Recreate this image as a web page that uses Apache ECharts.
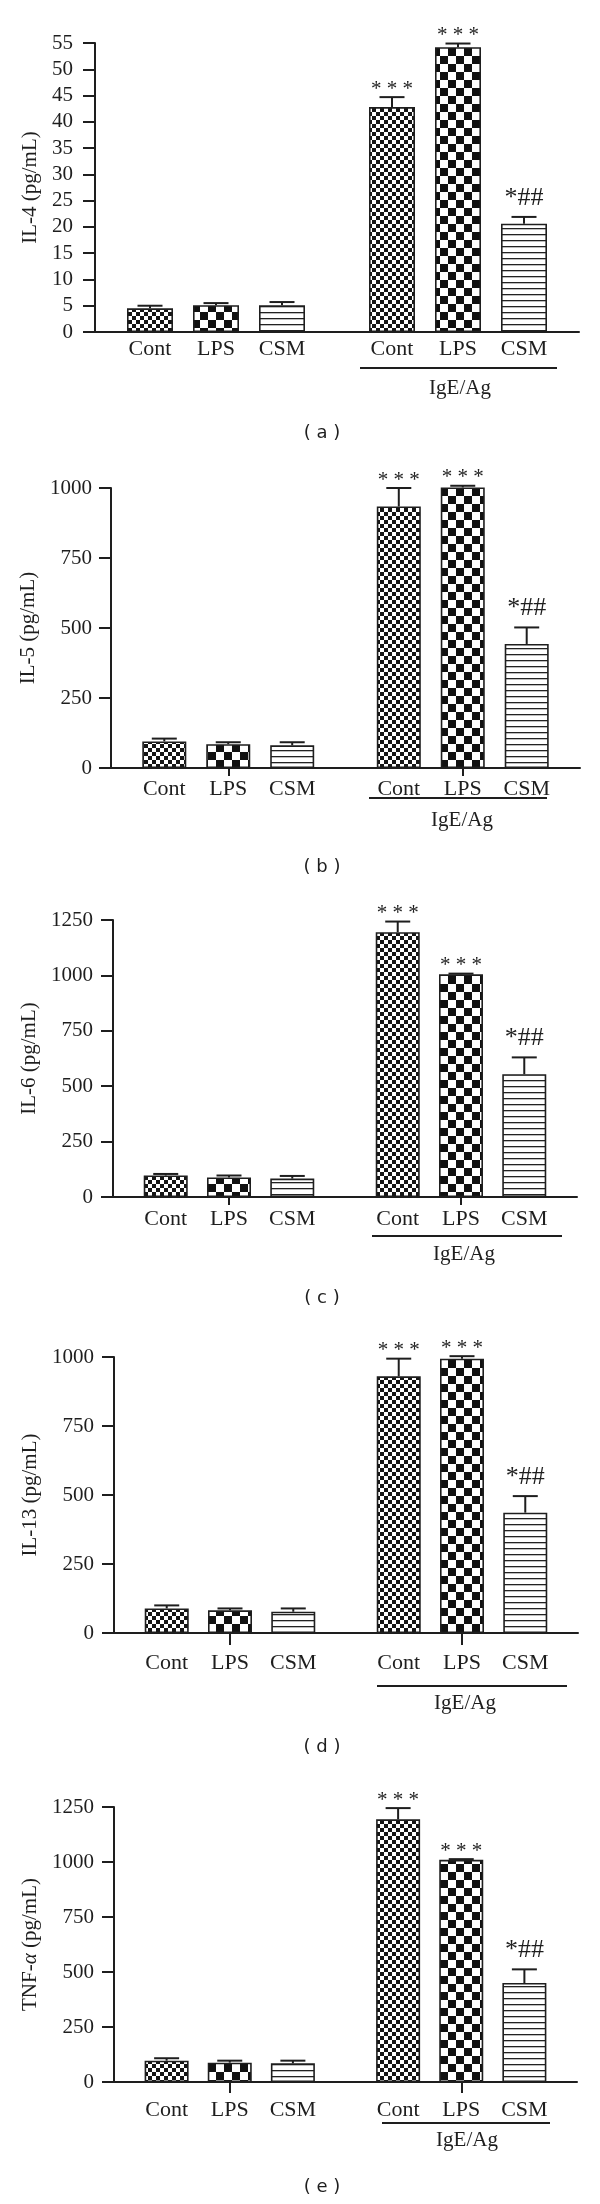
<!DOCTYPE html>
<html>
<head>
<meta charset="utf-8">
<title>Cytokine release</title>
<script src="https://cdn.jsdelivr.net/npm/echarts@6/dist/echarts.min.js"></script>
<style>
  html, body { margin: 0; padding: 0; background: #fff; }
  #chart { width: 600px; height: 2204px; }
</style>
</head>
<body>
<div id="chart"></div>
<script>
// groups: first three untreated, last three IgE/Ag
const groupLabels = ['Cont', 'LPS', 'CSM'];
const sigMarks = ['', '', '', '***', '***', '*##'];

const il4Mean = [4.5, 5.1, 5.1, 42.8, 54.2, 20.6];
const il4Err = [0.5, 0.4, 0.6, 1.9, 0.7, 1.3];

const il5Mean = [95, 85, 81, 934, 1002, 443];
const il5Err = [10, 7, 11, 66, 6, 59];

const il6Mean = [97, 88, 83, 1195, 1005, 554];
const il6Err = [7, 9, 12, 48, 3, 76];

const il13Mean = [89, 82, 77, 930, 994, 436];
const il13Err = [11, 7, 12, 64, 9, 60];

const tnfMean = [97, 88, 85, 1194, 1010, 450];
const tnfErr = [11, 9, 12, 51, 3, 62];

const SERIF = '"Liberation Serif", "DejaVu Serif", serif';
const INK = '#1e1e1e';

function makePattern(kind) {
  const c = document.createElement('canvas');
  const ctx = c.getContext('2d');
  if (kind === 'fine') {
    c.width = c.height = 8;
    ctx.fillStyle = '#fff'; ctx.fillRect(0, 0, 8, 8);
    ctx.fillStyle = '#151515';
    ctx.fillRect(0, 0, 4, 4); ctx.fillRect(4, 4, 4, 4);
  } else if (kind === 'coarse') {
    c.width = c.height = 16;
    ctx.fillStyle = '#fff'; ctx.fillRect(0, 0, 16, 16);
    ctx.fillStyle = '#111';
    ctx.fillRect(0, 0, 8, 8); ctx.fillRect(8, 8, 8, 8);
  } else {
    c.width = 6; c.height = 6;
    ctx.fillStyle = '#fff'; ctx.fillRect(0, 0, 6, 6);
    ctx.fillStyle = '#222';
    ctx.fillRect(0, 0, 6, 1.3);
  }
  return { image: c, repeat: 'repeat' };
}
const patterns = [makePattern('fine'), makePattern('coarse'), makePattern('stripes')];

// 22 category slots per panel, bars sit in slots 2,5,8 and 13,16,19
const nSlots = 22;
const slotIdx = [2, 5, 8, 13, 16, 19];

const panels = [
  { name: 'IL-4 (pg/mL)', mean: il4Mean, err: il4Err, max: 55, step: 5,
    left: 95, right: 21, top: 43, height: 289, barW: 46, labelMargin: 22, nameGap: 52,
    xTick: 0, xLabelMargin: 6, line: [360, 557, 368], group: [460, 388], letter: ['( a )', 322, 433] },
  { name: 'IL-5 (pg/mL)', mean: il5Mean, err: il5Err, max: 1000, step: 250,
    left: 111, right: 20, top: 488, height: 280, barW: 44, labelMargin: 19, nameGap: 66,
    xTick: 8, xLabelMargin: 10, line: [369, 547, 798], group: [462, 820], letter: ['( b )', 322, 867] },
  { name: 'IL-6 (pg/mL)', mean: il6Mean, err: il6Err, max: 1250, step: 250,
    left: 113, right: 23, top: 920, height: 277, barW: 44, labelMargin: 20, nameGap: 68,
    xTick: 8, xLabelMargin: 11, line: [372, 562, 1236], group: [464, 1254], letter: ['( c )', 322, 1298] },
  { name: 'IL-13 (pg/mL)', mean: il13Mean, err: il13Err, max: 1000, step: 250,
    left: 114, right: 22, top: 1357, height: 276, barW: 44, labelMargin: 20, nameGap: 69,
    xTick: 12, xLabelMargin: 19, line: [377, 567, 1686], group: [465, 1703], letter: ['( d )', 322, 1747] },
  { name: '{n|TNF-}{i|α}{n| (pg/mL)}', mean: tnfMean, err: tnfErr, max: 1250, step: 250,
    left: 114, right: 23, top: 1807, height: 275, barW: 44, labelMargin: 20, nameGap: 69,
    xTick: 11, xLabelMargin: 17, line: [382, 550, 2123], group: [467, 2140], letter: ['( e )', 322, 2187] }
];

const grid = [], xAxis = [], yAxis = [], series = [], graphic = [];

panels.forEach(function (p, i) {
  grid.push({ left: p.left, right: p.right, top: p.top, height: p.height, outerBoundsMode: 'none' });

  const cats = new Array(nSlots).fill('');
  slotIdx.forEach(function (s, k) { cats[s] = groupLabels[k % 3]; });

  xAxis.push({
    type: 'category', gridIndex: i, data: cats,
    axisLine: { lineStyle: { color: INK, width: 2 } },
    axisTick: {
      show: p.xTick > 0, alignWithLabel: true, length: p.xTick,
      lineStyle: { color: INK, width: 2 },
      interval: function (idx) { return idx === slotIdx[1] || idx === slotIdx[4]; }
    },
    axisLabel: { interval: 0, margin: p.xLabelMargin, color: INK, fontFamily: SERIF, fontSize: 22 }
  });

  yAxis.push({
    type: 'value', gridIndex: i, min: 0, max: p.max, interval: p.step,
    name: p.name, nameLocation: 'middle', nameGap: p.nameGap,
    nameTextStyle: {
      color: INK, fontFamily: SERIF, fontSize: 21,
      rich: {
        n: { fontFamily: SERIF, fontSize: 21, color: INK },
        i: { fontFamily: SERIF, fontSize: 21, color: INK, fontStyle: 'italic' }
      }
    },
    splitLine: { show: false },
    axisLine: { show: true, lineStyle: { color: INK, width: 2 } },
    axisTick: { show: true, inside: false, length: 12, lineStyle: { color: INK, width: 2 } },
    axisLabel: {
      margin: p.labelMargin, color: INK, fontFamily: SERIF, fontSize: 21,
      formatter: function (v) { return String(v); }
    }
  });

  const barData = new Array(nSlots).fill('-');
  p.mean.forEach(function (m, k) {
    barData[slotIdx[k]] = { value: m, itemStyle: { color: patterns[k % 3] } };
  });
  series.push({
    type: 'bar', xAxisIndex: i, yAxisIndex: i, data: barData,
    barWidth: p.barW, silent: true,
    itemStyle: { borderColor: INK, borderWidth: 1.6 }
  });

  series.push({
    type: 'custom', xAxisIndex: i, yAxisIndex: i, silent: true, z: 5,
    encode: { x: 0, y: [1, 2] },
    data: p.mean.map(function (m, k) { return [slotIdx[k], m, m + p.err[k]]; }),
    renderItem: function (params, api) {
      const base = api.coord([api.value(0), api.value(1)]);
      const top = api.coord([api.value(0), api.value(2)]);
      const mark = sigMarks[params.dataIndex];
      const kids = [
        { type: 'line', shape: { x1: base[0], y1: base[1], x2: top[0], y2: top[1] },
          style: { stroke: INK, lineWidth: 2 } },
        { type: 'line', shape: { x1: top[0] - 12.5, y1: top[1], x2: top[0] + 12.5, y2: top[1] },
          style: { stroke: INK, lineWidth: 2 } }
      ];
      if (mark) {
        const stars = mark === '***';
        kids.push({
          type: 'text', x: top[0], y: top[1] - (stars ? 8 : 19),
          style: {
            text: stars ? '* * *' : mark, align: 'center', verticalAlign: 'middle',
            font: (stars ? '21px ' : '26px ') + SERIF, fill: INK
          }
        });
      }
      return { type: 'group', children: kids };
    }
  });

  graphic.push({
    type: 'line', shape: { x1: p.line[0], y1: p.line[2], x2: p.line[1], y2: p.line[2] },
    style: { stroke: INK, lineWidth: 2 }
  });
  graphic.push({
    type: 'text', x: p.group[0], y: p.group[1],
    style: { text: 'IgE/Ag', align: 'center', verticalAlign: 'middle', font: '21px ' + SERIF, fill: INK }
  });
  graphic.push({
    type: 'text', x: p.letter[1], y: p.letter[2],
    style: { text: p.letter[0], align: 'center', verticalAlign: 'middle',
      font: '18px "DejaVu Sans", sans-serif', fill: INK }
  });
});

const chart = echarts.init(document.getElementById('chart'));
chart.setOption({
  animation: false,
  backgroundColor: '#fff',
  grid: grid,
  xAxis: xAxis,
  yAxis: yAxis,
  series: series,
  graphic: graphic
});
window.addEventListener('resize', function () { chart.resize(); });
</script>
</body>
</html>
